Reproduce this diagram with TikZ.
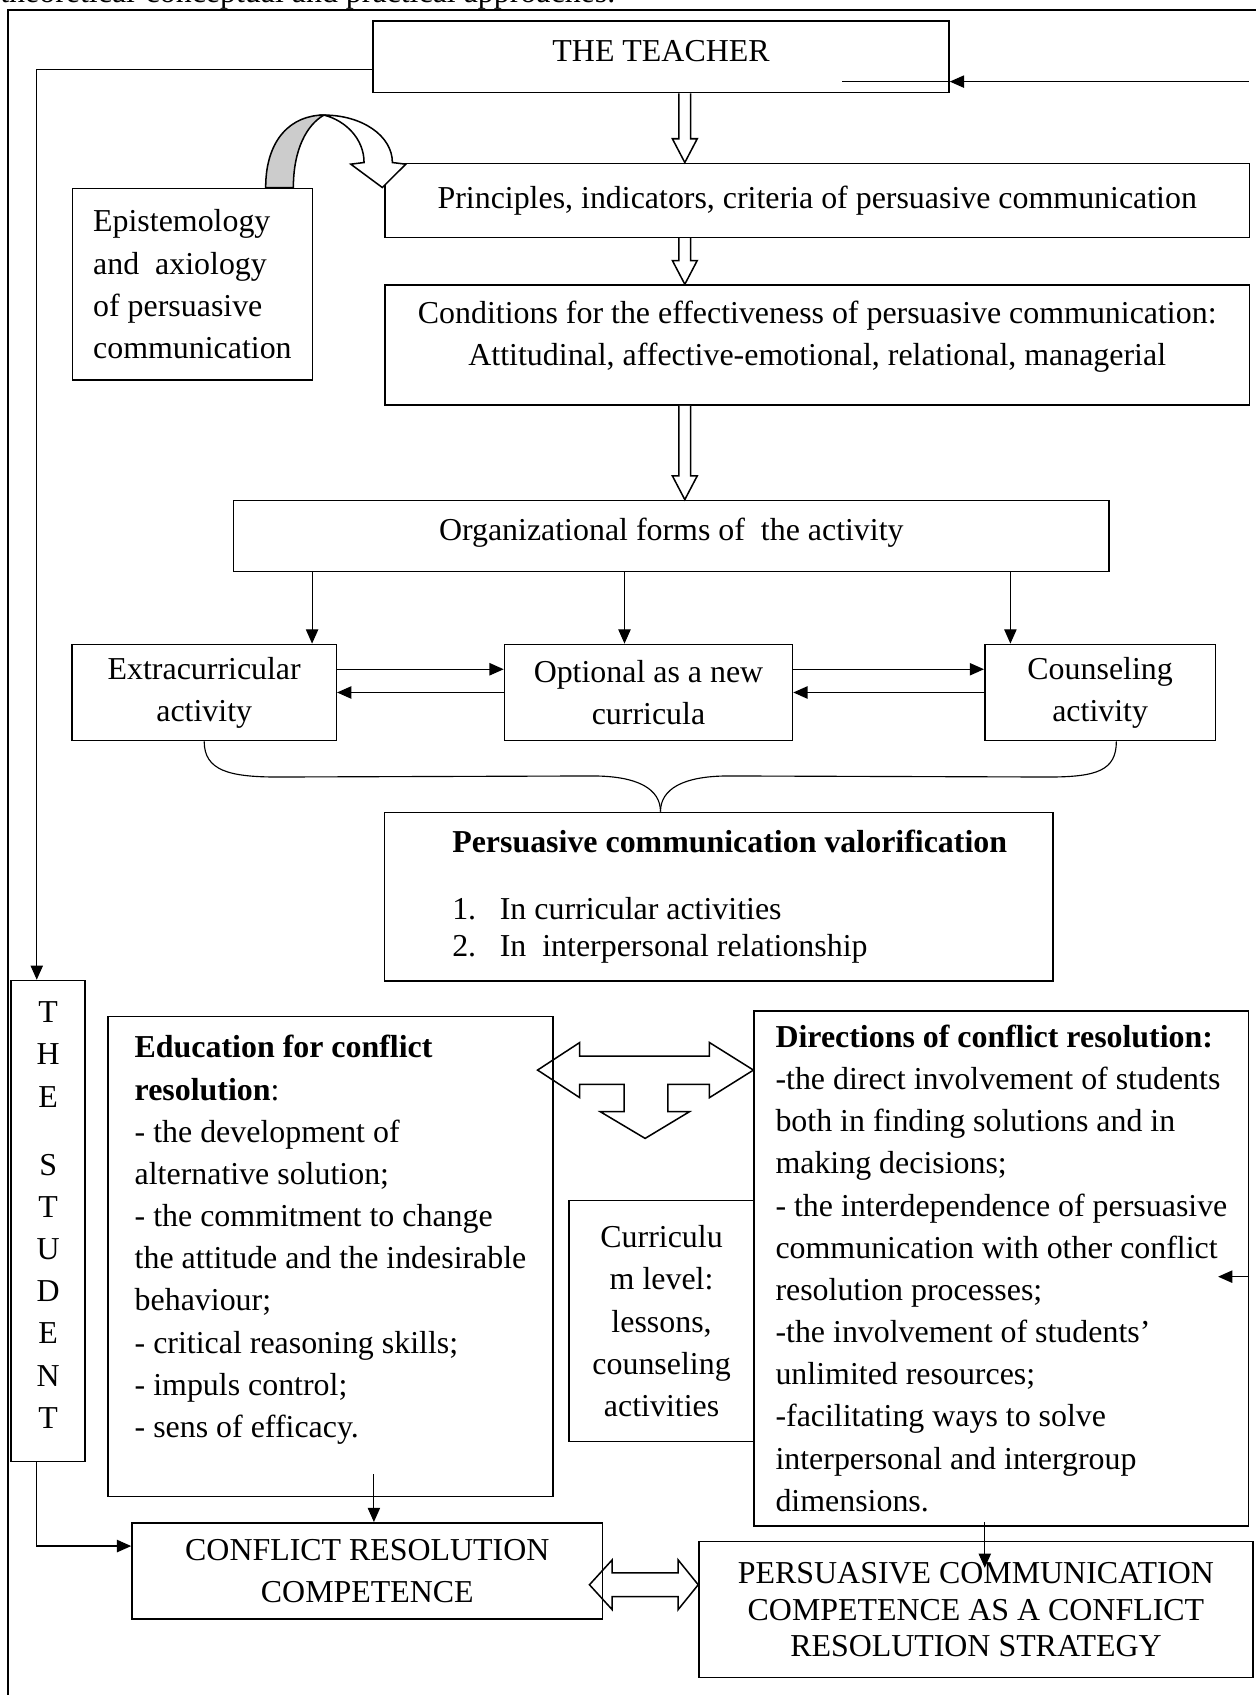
\documentclass[tikz,border=0pt]{standalone}
\usepackage{fontspec}
\setmainfont{Liberation Serif}
\usetikzlibrary{arrows.meta, positioning, calc}
\tikzset{
  box/.style={rectangle, draw, line width=0.8pt, inner sep=0pt, align=#1},
  box/.default=center,
  tight/.style={font=\fontsize{16.8}{19.3}\selectfont},
  arr/.style={-{Triangle[length=7.5pt, width=6.5pt]}, line width=0.6pt},
  fat/.style={draw, line width=0.8pt, fill=white, line join=miter},
}
\newcommand{\fatdown}[2]{%
  \draw[fat] ($#1+(-5.4,0)$) -- ($#2+(-5.4,-22)$) -- ($#2+(-11.5,-22)$) -- #2
    -- ($#2+(11.5,-22)$) -- ($#2+(5.4,-22)$) -- ($#1+(5.4,0)$);}
\newcommand{\lift}[1]{\rule[-#1]{0pt}{0pt}}

\begin{document}
\begin{tikzpicture}[x=0.02cm, y=-0.02cm,
    every node/.style={font=\fontsize{16.8}{22.2}\selectfont}]
  \useasboundingbox (0,0) rectangle (1161,1568);
  % PAGE FRAME
  \node[anchor=base west, inner sep=0pt] (prev_line) at (0,2.5)
    {theoretical-conceptual and practical approaches.};
  \draw[line width=1.4pt] (7.5,1600) -- (7.5,9.3) -- (1200,9.3);

  % TEACHER SIDE
  \node[box, minimum width=10.66cm, minimum height=1.33cm] (teacher) at (611.5,52.5) {THE TEACHER\lift{0.2cm}};
  \node[box, minimum width=16cm, minimum height=1.37cm] (principles) at (756,185.3)
    {Principles, indicators, criteria of persuasive communication};
  \node[box=left, minimum width=4.44cm, minimum height=3.55cm] (episte) at (178,262.9)
    {Epistemology\\and\ \ axiology\\of persuasive\\communication};
  \node[box, minimum width=16cm, minimum height=2.22cm] (conditions) at (756,319.2)
    {Conditions for the effectiveness of persuasive communication:\\Attitudinal, affective-emotional, relational, managerial\lift{0.45cm}};
  \node[box, minimum width=16.2cm, minimum height=1.32cm] (org_forms) at (621,495.9)
    {Organizational forms of\ \ the activity\lift{0.25cm}};

  % ACTIVITIES
  \node[box, minimum width=4.89cm, minimum height=1.78cm] (extra_act) at (188.9,640.6) {Extracurricular\\activity};
  \node[box, minimum width=5.33cm, minimum height=1.78cm] (optional_cur) at (599.9,640.6) {Optional as a new\\curricula};
  \node[box, minimum width=4.27cm, minimum height=1.78cm] (counsel_act) at (1017.7,640.6) {Counseling\\activity};
  \node[box=left, tight, minimum width=12.37cm, minimum height=3.12cm] (valorif) at (664.75,829.5)
    {\hspace*{0.41cm}\textbf{Persuasive communication valorification}\\[15.7pt]
     \hspace*{0.41cm}\makebox[0.88cm][l]{1.}In curricular activities\\
     \hspace*{0.41cm}\makebox[0.88cm][l]{2.}In\ \ interpersonal relationship};

  % STUDENT SIDE
  \node[box, minimum width=1.37cm, minimum height=8.9cm] (student) at (44.6,1129.5)
    {T\\H\\E\\[0.48cm]S\\T\\U\\D\\E\\N\\T\lift{0.22cm}};
  \node[box=left, minimum width=8.23cm, minimum height=8.88cm] (edu_conf) at (305.75,1162.5)
    {\textbf{Education for conflict}\\\textbf{resolution}:\\- the development of\\alternative solution;\\- the commitment to change\\the attitude and the indesirable\\behaviour;\\- critical reasoning skills;\\- impuls control;\\- sens of efficacy.\lift{0.75cm}};
  \node[box, minimum width=3.43cm, minimum height=4.46cm] (curric_lvl) at (612,1222.2)
    {Curriculu\\m level:\\lessons,\\counseling\\activities};
  \node[box=left, minimum width=9.15cm, minimum height=9.53cm] (dir_conf) at (926.4,1173.3)
    {\textbf{Directions of conflict resolution:}\\-the direct involvement of students\\both in finding solutions and in\\making decisions;\\- the interdependence of persuasive\\communication with other conflict\\resolution processes;\\-the involvement of students’\\unlimited resources;\\-facilitating ways to solve\\interpersonal and intergroup\\dimensions.};
  \node[box, minimum width=8.71cm, minimum height=1.78cm] (crc_comp) at (339.8,1453.2)
    {CONFLICT RESOLUTION\\COMPETENCE};
  \node[box, tight, minimum width=10.25cm, minimum height=2.52cm] (pcc_comp) at (902.8,1489)
    {PERSUASIVE COMMUNICATION\\COMPETENCE AS A CONFLICT\\RESOLUTION STRATEGY};

  % hollow arrows down the middle
  \coordinate (fx) at (633.5,0);
  \fatdown{(teacher.south -| fx)}{(principles.north -| fx)}
  \fatdown{(principles.south -| fx)}{(conditions.north -| fx)}
  \fatdown{(conditions.south -| fx)}{(org_forms.north -| fx)}

  % curved arrow epistemology -> principles
  \begin{scope}[shift={(episte.north east)}]
    \filldraw[fill=black!20, line width=0.8pt] (-43.9,0) .. controls (-43.9,-45) and (-20,-67) .. (10,-67)
      .. controls (-6,-58) and (-18.3,-35) .. (-18.3,0) -- cycle;
    \filldraw[fill=white, line width=0.8pt] (10,-67) .. controls (45,-67) and (73.3,-48) .. (73.3,-23.1)
      -- (85.7,-21.6) -- (64,0) -- (34.8,-21.6) -- (47.1,-23.1)
      .. controls (47.1,-45) and (30,-62) .. (10,-67) -- cycle;
  \end{scope}

  % teacher lines
  \coordinate (lx) at (34,0);
  \coordinate (t_in) at (1155,75.5);
  \draw[arr] ([yshift=-0.23cm]teacher.west) -| (student.north -| lx);
  \draw[arr] (t_in) -- (teacher.east |- t_in);
  \draw[line width=0.6pt] (teacher.east |- t_in) -- ++(-100,0);

  % org forms -> activities
  \coordinate (a1) at (288.7,0);
  \coordinate (a2) at (577.7,0);
  \coordinate (a3) at (934.7,0);
  \draw[arr] (org_forms.south -| a1) -- (extra_act.north -| a1);
  \draw[arr] (org_forms.south -| a2) -- (optional_cur.north -| a2);
  \draw[arr] (org_forms.south -| a3) -- (counsel_act.north -| a3);
  \draw[arr] ([yshift=0.43cm]extra_act.east) -- ([yshift=0.43cm]optional_cur.west);
  \draw[arr] (optional_cur.west) -- (extra_act.east);
  \draw[arr] ([yshift=0.43cm]optional_cur.east) -- ([yshift=0.43cm]counsel_act.west);
  \draw[arr] (counsel_act.west) -- (optional_cur.east);

  % brace into valorification
  \coordinate (bt) at (611,0);
  \draw[line width=0.6pt] (extra_act.south) .. controls +(0,27) and +(-45,0) .. ++(68,33)
    -- ($(valorif.north -| bt)+(-63,-33)$) .. controls +(42,0) and +(0,-21) .. (valorif.north -| bt);
  \draw[line width=0.6pt] ([xshift=0.3cm]counsel_act.south) .. controls +(0,27) and +(45,0) .. ++(-63,33)
    -- ($(valorif.north -| bt)+(63,-33)$) .. controls +(-42,0) and +(0,-21) .. (valorif.north -| bt);

  % three-way hollow arrow
  \coordinate (tri) at ($(dir_conf.north west)+(-100.2,55.5)$);
  \begin{scope}[shift={(tri)}]
    \draw[line width=0.8pt, line join=miter] (-99.5,0) -- (-60.5,-25.5) -- (-60.5,-13) -- (59.5,-13)
      -- (59.5,-25.5) -- (100.2,0) -- (59.5,25.5) -- (59.5,13.2) -- (21,13.2) -- (21,38.5)
      -- (41,38.5) -- (0,63.2) -- (-41.5,38.5) -- (-19.5,38.5) -- (-19.5,13.2) -- (-60.5,13.2)
      -- (-60.5,25.5) -- cycle;
  \end{scope}

  % student, education, directions -> competences
  \draw[arr] (student.south -| lx) |- ([yshift=0.46cm]crc_comp.west);
  \coordinate (ex) at (345.9,0);
  \draw[arr] ($(edu_conf.south -| ex)+(0,-21.5)$) -- (crc_comp.north -| ex);
  \coordinate (dx) at (911,0);
  \draw[arr] ($(dir_conf.south -| dx)+(0,-4)$) -- ($(pcc_comp.north -| dx)+(0,25)$);
  \coordinate (d_in) at (1155,1181);
  \draw[arr] (dir_conf.east |- d_in) -- ++(-29,0);

  % double hollow arrow between competences
  \coordinate (dbl) at ($(pcc_comp.west)+(-100.6,-23)$);
  \begin{scope}[shift={(dbl)}]
    \draw[line width=0.8pt, line join=miter] (0,0) -- (21,-23) -- (21,-11) -- (82,-11) -- (82,-23)
      -- (100.6,0) -- (82,23) -- (82,11) -- (21,11) -- (21,23) -- cycle;
  \end{scope}
\end{tikzpicture}
\end{document}
